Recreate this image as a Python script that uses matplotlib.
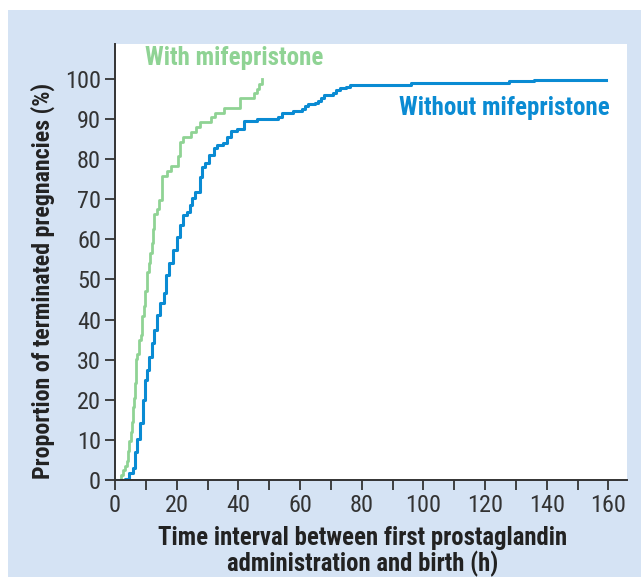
import numpy as np
import matplotlib.pyplot as plt
from matplotlib import font_manager
import matplotlib.patheffects as pe
from matplotlib.patches import Rectangle

# Datos (curvas escalonadas acumuladas)
t_with = [0, 1.8, 2.5, 3.1, 3.8, 4.2, 4.6, 5.1, 5.5, 5.9, 6.2, 6.6, 6.9, 7.2, 7.7, 8.3, 8.7,
          9.4, 9.6, 10.3, 10.9, 11.3, 12.0, 12.4, 12.6, 13.7, 14.3, 15.4, 16.7, 18.0, 20.4,
          21.0, 22.1, 24.5, 26.2, 27.5, 31.0, 32.5, 35.3, 40.5, 45.0, 45.9, 46.7, 47.6]
p_with = [0, 1.2, 2.4, 3.6, 4.8, 7.2, 9.6, 12.0, 14.5, 18.1, 20.5, 24.1, 30.1, 31.3, 34.9,
          36.1, 40.9, 43.4, 47.0, 51.8, 54.2, 56.6, 59.0, 62.7, 66.3, 67.5, 69.9, 75.9, 77.1,
          78.3, 80.7, 84.3, 85.5, 86.7, 88.0, 89.2, 90.4, 91.6, 92.8, 95.2, 96.4, 97.6, 98.8, 100]

t_without = [0, 3.4, 4.4, 5.9, 6.4, 7.2, 8.1, 9.2, 9.8, 10.5, 11.1, 12.0, 12.8, 13.7, 14.6,
             15.9, 16.5, 17.6, 18.9, 20.0, 21.0, 22.1, 23.2, 24.3, 25.0, 25.8, 27.5, 28.2,
             29.2, 30.5, 32.1, 33.1, 35.1, 36.4, 37.7, 39.6, 41.8, 45.9, 52.9, 54.0, 57.7,
             60.5, 61.5, 62.6, 64.8, 65.8, 66.9, 67.7, 70.7, 71.8, 72.9, 75.0, 76.3, 96.0,
             127.9, 135.7, 159.2]
p_without = [0, 0.3, 1.7, 3.1, 6.9, 10.1, 14.1, 20.0, 24.9, 27.4, 30.7, 34.1, 37.4, 41.1,
             44.2, 46.6, 51.1, 54.0, 57.4, 60.7, 63.6, 66.1, 66.9, 68.6, 70.2, 71.9, 75.6,
             78.1, 79.0, 81.0, 82.7, 83.5, 84.1, 85.5, 86.9, 87.4, 89.6, 89.9, 90.6, 91.6,
             92.1, 92.4, 93.3, 93.8, 94.1, 94.6, 95.2, 96.0, 96.6, 97.3, 97.7, 97.9, 98.5,
             99.1, 99.5, 99.75, 99.75]

VERDE = '#8fd394'
AZUL = '#0a8bd3'
FONDO = '#d5e3f4'
GRIS = '#333333'

# fuentes estrechas instaladas (normal y negrita)
pesos = {}
for f in font_manager.fontManager.ttflist:
    w = f.weight if isinstance(f.weight, int) else font_manager.weight_dict.get(f.weight, 400)
    pesos.setdefault(f.name, set()).add(w)
preferidas = ['Roboto Condensed', 'Open Sans Condensed', 'Liberation Sans Narrow',
              'Noto Sans Condensed', 'DejaVu Sans Condensed']
estrechas = preferidas + sorted(n for n in pesos if ('Condensed' in n or 'Narrow' in n)
                                and n not in preferidas)
estrechas = [n for n in estrechas if n in pesos]
normal = next((n for n in estrechas if any(w <= 500 for w in pesos[n])), 'DejaVu Sans')
negrita = next((n for n in estrechas if any(w >= 600 for w in pesos[n])), None)

plt.rcParams['font.family'] = [normal, 'DejaVu Sans']
if negrita:
    B = dict(family=[negrita, 'DejaVu Sans'], fontweight='bold')
    efecto = None
else:
    B = dict(family=[normal, 'DejaVu Sans'], fontweight='bold')
    efecto = 'trazo'


def grueso(txt, color):
    if efecto:
        txt.set_path_effects([pe.withStroke(linewidth=1.1, foreground=color)])


fig = plt.figure(figsize=(6.41, 5.77), dpi=100)
fig.patches.append(Rectangle((8/641, 0), 1, 1 - 10/577, transform=fig.transFigure,
                             facecolor=FONDO, edgecolor='none', zorder=-10))
ax = fig.add_axes([115/641, 1 - 480/577, 512/641, 436/577])
ax.set_facecolor('white')

ax.plot(t_with, p_with, drawstyle='steps-post', color=VERDE, lw=2.0)
ax.plot(t_without, p_without, drawstyle='steps-post', color=AZUL, lw=2.2)

ax.set_xlim(0, 166)
ax.set_ylim(0, 108.7)
ax.set_xticks(np.arange(0, 161, 20))
ax.set_xticks(np.arange(10, 161, 20), minor=True)
ax.set_yticks(np.arange(0, 101, 10))
ax.tick_params(axis='both', which='both', direction='out', length=7, width=1.3,
               color=GRIS, labelsize=17.5, labelcolor=GRIS, pad=3)
for s in ['top', 'right']:
    ax.spines[s].set_visible(False)
for s in ['left', 'bottom']:
    ax.spines[s].set_color(GRIS)
    ax.spines[s].set_linewidth(1.4)

t1 = ax.text(9.7, 105.2, 'With mifepristone', color=VERDE, fontsize=18,
             ha='left', va='center', **B)
t2 = ax.text(92.1, 92.8, 'Without mifepristone', color=AZUL, fontsize=18,
             ha='left', va='center', **B)
grueso(t1, VERDE)
grueso(t2, AZUL)

xl = ax.set_xlabel('Time interval between first prostaglandin\nadministration and birth (h)',
                   fontsize=17.8, color='#222222', linespacing=1.0, **B)
ax.xaxis.set_label_coords(0.484, -0.106, transform=ax.transAxes)
xl.set_va('top')
yl = ax.set_ylabel('Proportion of terminated pregnancies (%)', fontsize=17.2,
                   color='#222222', **B)
ax.yaxis.set_label_coords(-0.117, 0.457, transform=ax.transAxes)
grueso(xl, '#222222')
grueso(yl, '#222222')

fig.savefig('out.png', dpi=100)
